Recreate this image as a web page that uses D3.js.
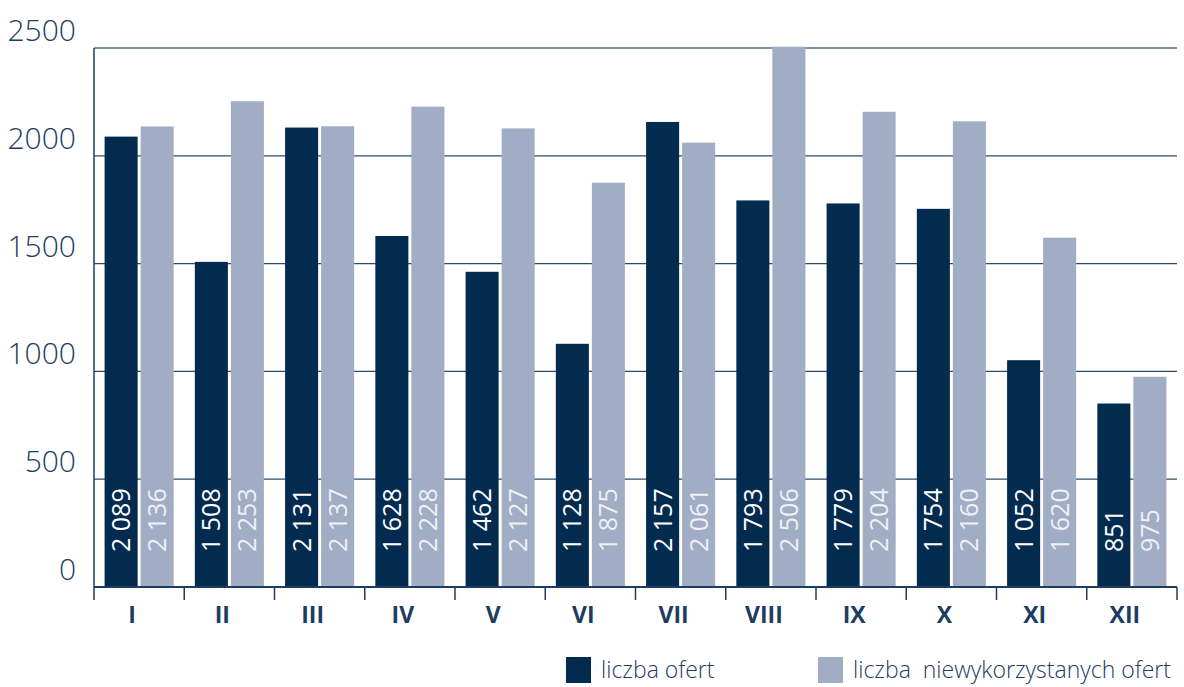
<!DOCTYPE html>
<html>
<head>
<meta charset="utf-8">
<script src="https://cdn.jsdelivr.net/npm/d3@7"></script>
<style>
  body { margin: 0; background: #fff; }
  svg { display: block; font-family: "Open Sans", sans-serif; }
</style>
</head>
<body>
<svg width="1184" height="687"></svg>
<script>
  // data
  const months = ['I', 'II', 'III', 'IV', 'V', 'VI', 'VII', 'VIII', 'IX', 'X', 'XI', 'XII'];
  const offers = [2089, 1508, 2131, 1628, 1462, 1128, 2157, 1793, 1779, 1754, 1052, 851];
  const unused = [2136, 2253, 2137, 2228, 2127, 1875, 2061, 2506, 2204, 2160, 1620, 975];
  const yTicks = [0, 500, 1000, 1500, 2000, 2500];
  const seriesNames = ['liczba ofert', 'liczba  niewykorzystanych ofert'];
  const colors = ['#032b50', '#a0adc4'];
  const labelColors = ['#ffffff', '#eef1f6'];

  const svg = d3.select('svg');
  const plot = { left: 94, right: 1177, top: 48, bottom: 587 };

  // scales
  const yScale = d3.scaleLinear().domain([0, 2500]).range([plot.bottom, plot.top]);
  const x0 = d3.scaleBand().domain(months).range([plot.left, plot.right]).padding(0);
  const x1 = d3.scaleBand().domain([0, 1]).range([0, x0.bandwidth()])
    .paddingInner(0.083).paddingOuter(0.294);

  // gridlines
  svg.append('g').selectAll('line')
    .data(yTicks.filter(d => d > 0))
    .enter().append('line')
    .attr('x1', plot.left).attr('x2', plot.right)
    .attr('y1', d => yScale(d)).attr('y2', d => yScale(d))
    .attr('stroke', d => d === 2500 ? '#7f94a9' : '#2c4b6c')
    .attr('stroke-width', d => d === 2500 ? 2 : 1.3);

  // y labels
  svg.append('g').selectAll('text')
    .data(yTicks)
    .enter().append('text')
    .attr('x', 76)
    .attr('y', d => yScale(d) - 7)
    .attr('text-anchor', 'end')
    .attr('font-size', 30)
    .attr('font-weight', 300)
    .attr('fill', '#1d3d60')
    .text(d => d);

  // bars
  const data = months.map((m, i) => ({ month: m, values: [offers[i], unused[i]] }));
  const groups = svg.append('g').selectAll('g')
    .data(data)
    .enter().append('g')
    .attr('transform', d => 'translate(' + x0(d.month) + ',0)');

  groups.selectAll('rect')
    .data(d => d.values.map((v, s) => ({ v: v, s: s })))
    .enter().append('rect')
    .attr('x', d => x1(d.s))
    .attr('width', x1.bandwidth())
    .attr('y', d => yScale(d.v))
    .attr('height', d => plot.bottom - yScale(d.v))
    .attr('fill', d => colors[d.s]);

  const fmt = v => d3.format(',')(v).replace(',', ' ');
  groups.selectAll('text')
    .data(d => d.values.map((v, s) => ({ v: v, s: s })))
    .enter().append('text')
    .attr('transform', d => 'translate(' + (x1(d.s) + x1.bandwidth() / 2) + ',552) rotate(-90)')
    .attr('dy', '0.36em')
    .attr('font-size', 25)
    .attr('fill', d => labelColors[d.s])
    .text(d => fmt(d.v));

  // axes lines
  svg.append('line')
    .attr('x1', plot.left).attr('x2', plot.left)
    .attr('y1', plot.top).attr('y2', 600)
    .attr('stroke', '#1d3d60').attr('stroke-width', 1.5);
  svg.append('line')
    .attr('x1', plot.left).attr('x2', plot.right)
    .attr('y1', plot.bottom).attr('y2', plot.bottom)
    .attr('stroke', '#1d3d60').attr('stroke-width', 1.8);
  svg.append('g').selectAll('line')
    .data(months)
    .enter().append('line')
    .attr('x1', d => x0(d) + x0.bandwidth()).attr('x2', d => x0(d) + x0.bandwidth())
    .attr('y1', plot.bottom).attr('y2', 600)
    .attr('stroke', '#1d3d60').attr('stroke-width', 1.5);

  // month labels
  svg.append('g').selectAll('text')
    .data(months)
    .enter().append('text')
    .attr('x', d => x0(d) + x0.bandwidth() / 2 - 7)
    .attr('y', 623)
    .attr('text-anchor', 'middle')
    .attr('font-size', 23)
    .attr('font-weight', 'bold')
    .attr('fill', '#1d3d60')
    .text(d => d);

  // legend
  const legendX = [566, 818];
  const legend = svg.append('g').selectAll('g')
    .data(seriesNames)
    .enter().append('g')
    .attr('transform', (d, i) => 'translate(' + legendX[i] + ',657)');
  legend.append('rect')
    .attr('width', 25).attr('height', 26)
    .attr('fill', (d, i) => colors[i]);
  legend.append('text')
    .attr('x', 35).attr('y', 21)
    .attr('font-size', 23)
    .attr('font-weight', 300)
    .attr('fill', '#1d3d60')
    .attr('xml:space', 'preserve')
    .style('white-space', 'pre')
    .text(d => d);
</script>
</body>
</html>
